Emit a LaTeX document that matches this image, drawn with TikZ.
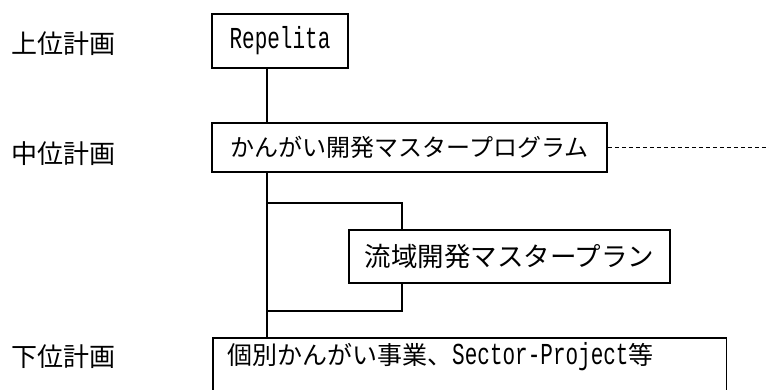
\documentclass[tikz,border=0pt]{standalone}
\usepackage{fontspec}
\newfontfamily\jpfont{Noto Sans CJK JP}
\newfontfamily\latfont{Liberation Mono}
\newcommand\lt[1]{{\latfont\fontsize{21}{25}\selectfont\scalebox{1}[1.45]{#1}}}
\newcommand\fs[1]{\fontsize{#1}{#1}\selectfont}
\begin{document}
\begin{tikzpicture}[x=1pt,y=-1pt,
  lbl/.style={anchor=west,inner sep=0pt,font=\jpfont\fs{26}},
  box/.style={draw,line width=1.5pt,inner sep=0pt,font=\jpfont\fs{25},fill=white},
  conn/.style={line width=1.2pt}]
\useasboundingbox (0,0) rectangle (769,389);
\clip (0,0) rectangle (769,389);
\fill[white] (0,0) rectangle (769,389);
% level labels
\node[lbl] (l1) at (11,44) {上位計画};
\node[lbl] (l2) at (11,154) {中位計画};
\node[lbl] (l3) at (11,357) {下位計画};
% boxes
\node[box,minimum width=136,minimum height=54] (rep) at (280,41) {\lt{Repelita}};
\node[box,minimum width=395,minimum height=49,font=\jpfont\fs{24}] (mast) at (409.5,147.5) {かんがい開発マスタープログラム};
\coordinate (dotend) at (769,147.5);
\draw[dash pattern=on 4pt off 3pt,line width=0.9pt] (mast.east) -- (dotend);
% trunk
\draw[conn] (rep.south -| 267,0) -- (mast.north -| 267,0);
\node[inner sep=0pt,anchor=north west,minimum width=513,minimum height=38,align=left] (bot) at (213,338) {};
\draw[conn] (mast.south -| 267,0) -- (bot.north -| 267,0);
% bracket
\coordinate (b1) at (267,203);
\coordinate (b2) at (402,203);
\coordinate (b3) at (402,311);
\coordinate (b4) at (267,311);
\draw[conn] (b1) -- (b2) -- (b3) -- (b4);
\node[box,minimum width=321,minimum height=53,font=\jpfont\fs{26.5}] (ws) at (509.5,256.5) {流域開発マスタープラン};
% bottom box (open at the bottom, cut by the frame)
\draw[line width=1.5pt] ([yshift=-30pt]bot.south west) -- (bot.north west) -- (bot.north east) -- ([yshift=-30pt]bot.south east);
\node[anchor=west,inner sep=0pt,font=\jpfont\fs{25}] (bottxt) at (227,357) {個別かんがい事業、\lt{Sector-Project}等};
\end{tikzpicture}
\end{document}
